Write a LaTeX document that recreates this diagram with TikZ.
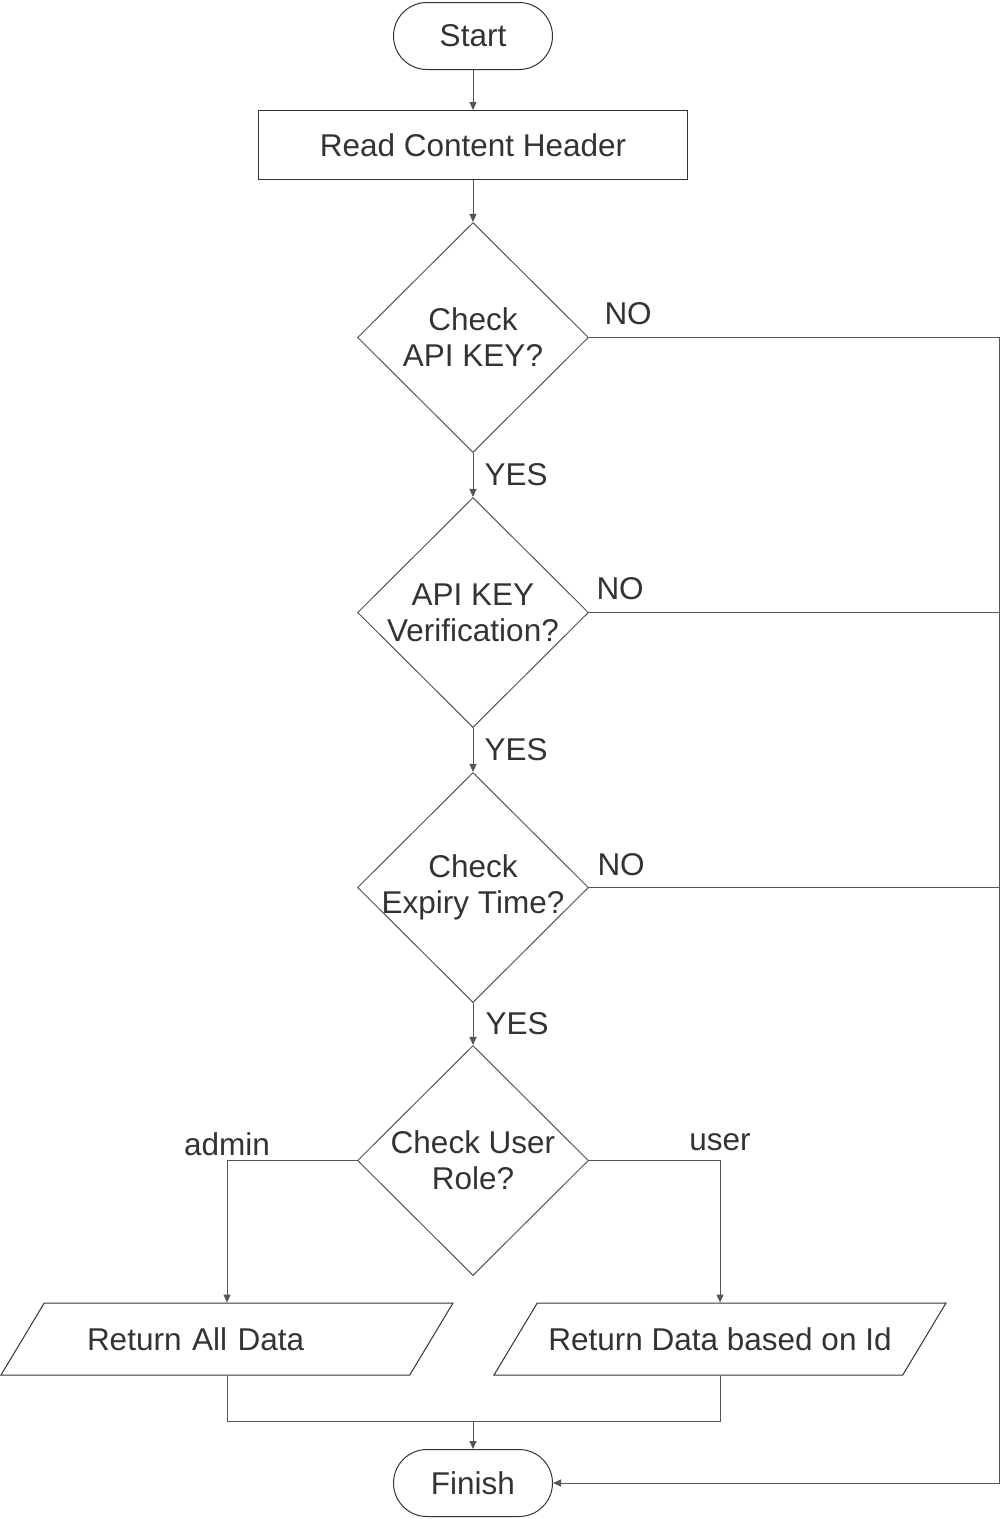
\documentclass[tikz,border=0pt]{standalone}
\usepackage{fontspec}
\setmainfont{Liberation Sans}
\usetikzlibrary{shapes.geometric,arrows.meta,positioning}
\definecolor{inkgray}{HTML}{333333}
\definecolor{wiregray}{HTML}{555555}

\begin{document}
\begin{tikzpicture}[x=1pt, y=-1pt, line width=1pt, font=\fontsize{31.5}{36}\selectfont, text=inkgray]
    \tikzstyle{terminal} = [rectangle, draw=inkgray, rounded corners=33.5pt, minimum width=159pt, minimum height=67pt]
    \tikzstyle{process} = [rectangle, draw=inkgray, minimum width=429pt, minimum height=69pt]
    \tikzstyle{decision} = [diamond, draw=wiregray, align=center, inner sep=-10pt, minimum width=231pt, minimum height=230pt]
    \tikzstyle{io} = [trapezium, trapezium left angle=59, trapezium right angle=121, trapezium stretches body, draw=inkgray, text height=26pt, text depth=4pt, inner ysep=21pt, minimum width=452pt]
    \tikzstyle{arrow} = [draw=wiregray, -{Triangle[length=8pt,width=7pt]}]
    \tikzstyle{wire} = [draw=wiregray]
    \tikzstyle{tag} = [inner sep=0pt, anchor=base west]
    \tikzstyle{branch} = [inner sep=0pt, anchor=base]

    \useasboundingbox (0,0) rectangle (1000,1519);

    \node [terminal] (start) at (473,36) {Start};
    \node [process, below=40pt of start] (header) {Read Content Header};
    \node [decision, below=42pt of header] (apikey) {Check\\API KEY?};
    \node [decision, below=44pt of apikey] (verify) {API KEY\\Verification?};
    \node [decision, below=44pt of verify] (expiry) {Check\\Expiry Time?};
    \node [decision, below=42pt of expiry] (role) {Check User\\Role?};
    \node [io, text width=280pt, align=left] (alldata) at (227,1339) {Return All Data};
    \node [io] (byid) at (720,1339) {Return Data based on Id};
    \node [terminal] (finish) at (473,1483) {Finish};
    \coordinate (rail) at (999,337);
    \coordinate (merge) at (473,1421);

    \draw [arrow] (start) -- (header);
    \draw [arrow] (header) -- (apikey);
    \draw [arrow] (apikey) -- node [tag, xshift=11pt, yshift=-10pt] {YES} (verify);
    \draw [arrow] (verify) -- node [tag, xshift=11pt, yshift=-10pt] {YES} (expiry);
    \draw [arrow] (expiry) -- node [tag, xshift=12pt, yshift=-10pt] {YES} (role);

    % NO branches all run to the right rail
    \draw [arrow] (apikey.east) -- node [pos=0, tag, xshift=15pt, yshift=13pt] {NO} (apikey.east -| rail) -- (rail |- finish.east) -- (finish.east);
    \draw [wire] (verify.east) -- node [pos=0, tag, xshift=7pt, yshift=13pt] {NO} (verify.east -| rail);
    \draw [wire] (expiry.east) -- node [pos=0, tag, xshift=8pt, yshift=12pt] {NO} (expiry.east -| rail);

    \draw [arrow] (role.west) -| node [pos=0.5, branch, yshift=5pt] {admin} (alldata.north);
    \draw [arrow] (role.east) -| node [pos=0.5, branch, yshift=10pt] {user} (byid.north);

    \draw [wire] (alldata.south) |- (merge) -| (byid.south);
    \draw [arrow] (merge) -- (finish);
\end{tikzpicture}
\end{document}
